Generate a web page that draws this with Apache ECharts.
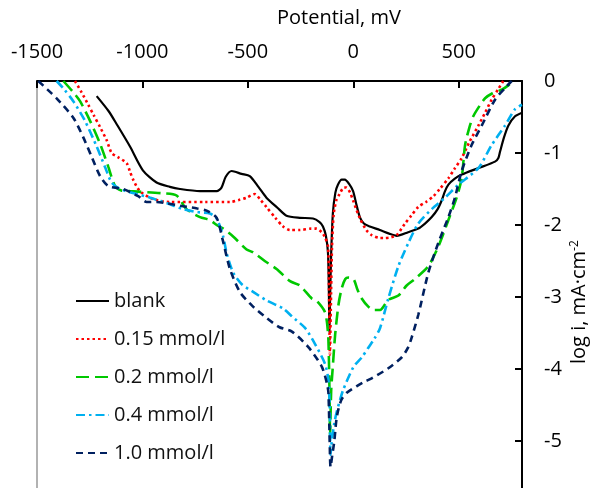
<!DOCTYPE html>
<html>
<head>
<meta charset="utf-8">
<script src="https://cdn.jsdelivr.net/npm/echarts@6/dist/echarts.min.js"></script>
<style>
  html, body { margin: 0; padding: 0; background: #fff; overflow: hidden; width: 592px; height: 488px; }
  #chart { width: 592px; height: 523px; }
</style>
</head>
<body>
<div id="chart"></div>
<script>
// series names
const seriesNames = ['blank', '0.15 mmol/l', '0.2 mmol/l', '0.4 mmol/l', '1.0 mmol/l'];

// [potential mV, log i]
const blank = [[-1217,-0.21],[-1160,-0.42],[-1122,-0.60],[-1059,-0.91],[-998,-1.24],[-933,-1.41],[-870,-1.47],[-822,-1.50],[-727,-1.53],[-648,-1.53],[-625,-1.48],[-605,-1.33],[-577,-1.25],[-530,-1.29],[-491,-1.32],[-450,-1.47],[-412,-1.62],[-360,-1.76],[-317,-1.87],[-254,-1.90],[-191,-1.91],[-160,-1.96],[-144,-2.02],[-130,-2.15],[-120,-2.39],[-116,-2.9],[-113,-3.5],[-110,-3.0],[-105,-2.4],[-97,-1.84],[-85,-1.55],[-73,-1.44],[-55,-1.37],[-40,-1.37],[-20,-1.43],[-1,-1.53],[15,-1.72],[31,-1.89],[50,-1.98],[78,-2.02],[126,-2.07],[170,-2.12],[206,-2.15],[260,-2.10],[308,-2.05],[340,-1.98],[372,-1.89],[400,-1.78],[419,-1.66],[435,-1.53],[451,-1.44],[480,-1.36],[514,-1.30],[593,-1.21],[672,-1.12],[688,-1.07],[696,-0.98],[715,-0.78],[735,-0.62],[767,-0.49],[800,-0.44]];

const c015 = [[-1320,0],[-1290,-0.15],[-1257,-0.33],[-1230,-0.48],[-1201,-0.64],[-1170,-0.82],[-1146,-1.0],[-1115,-1.06],[-1075,-1.14],[-1060,-1.25],[-1044,-1.37],[-1012,-1.53],[-949,-1.64],[-870,-1.68],[-700,-1.68],[-585,-1.68],[-540,-1.65],[-506,-1.62],[-467,-1.57],[-440,-1.65],[-412,-1.75],[-370,-1.90],[-333,-2.02],[-300,-2.07],[-254,-2.07],[-200,-2.05],[-175,-2.05],[-150,-2.10],[-136,-2.16],[-120,-2.30],[-115,-2.9],[-111,-3.8],[-107,-3.2],[-101,-2.3],[-93,-1.85],[-80,-1.65],[-65,-1.57],[-45,-1.48],[-33,-1.48],[-15,-1.55],[-1,-1.66],[30,-1.90],[62,-2.07],[87,-2.14],[126,-2.18],[150,-2.18],[180,-2.17],[206,-2.14],[245,-1.98],[275,-1.87],[308,-1.75],[345,-1.68],[380,-1.60],[410,-1.50],[451,-1.35],[480,-1.22],[514,-1.07],[550,-0.85],[593,-0.62],[625,-0.44],[656,-0.26],[690,-0.10],[711,0]];

const c02 = [[-1375,0],[-1330,-0.15],[-1296,-0.28],[-1249,-0.55],[-1201,-0.87],[-1162,-1.19],[-1130,-1.46],[-1100,-1.52],[-1059,-1.53],[-901,-1.56],[-838,-1.59],[-791,-1.78],[-727,-1.89],[-680,-1.93],[-648,-2.0],[-617,-2.05],[-570,-2.16],[-506,-2.34],[-475,-2.38],[-420,-2.50],[-364,-2.61],[-300,-2.78],[-254,-2.84],[-197,-3.02],[-175,-3.05],[-136,-3.20],[-125,-3.35],[-118,-3.6],[-113,-4.3],[-110,-4.92],[-105,-4.3],[-98,-4.0],[-86,-3.52],[-70,-3.1],[-55,-2.88],[-38,-2.75],[-23,-2.73],[1,-2.75],[20,-2.9],[40,-3.02],[70,-3.13],[95,-3.18],[127,-3.18],[166,-3.04],[214,-2.98],[253,-2.84],[292,-2.75],[356,-2.57],[403,-2.30],[451,-1.93],[490,-1.62],[514,-1.35],[530,-0.89],[550,-0.65],[569,-0.49],[600,-0.34],[625,-0.24],[660,-0.17],[704,-0.12],[740,-0.05],[759,0]];

const c04 = [[-1407,0],[-1370,-0.12],[-1328,-0.28],[-1273,-0.55],[-1217,-0.91],[-1178,-1.19],[-1146,-1.41],[-1107,-1.50],[-1040,-1.56],[-964,-1.62],[-880,-1.70],[-807,-1.78],[-740,-1.82],[-680,-1.84],[-648,-1.91],[-617,-2.16],[-600,-2.4],[-570,-2.66],[-530,-2.82],[-475,-2.93],[-410,-3.05],[-333,-3.16],[-291,-3.27],[-229,-3.43],[-182,-3.65],[-134,-3.93],[-118,-4.15],[-112,-4.5],[-108,-5.19],[-102,-5.0],[-90,-4.75],[-79,-4.6],[-62,-4.42],[-48,-4.29],[1,-3.97],[40,-3.84],[72,-3.70],[100,-3.58],[127,-3.43],[166,-3.02],[214,-2.57],[261,-2.25],[308,-1.98],[372,-1.78],[435,-1.62],[498,-1.44],[593,-1.21],[656,-0.89],[719,-0.62],[767,-0.39],[800,-0.33]];

const c10 = [[-1494,0],[-1450,-0.12],[-1407,-0.24],[-1328,-0.51],[-1281,-0.78],[-1241,-1.05],[-1201,-1.32],[-1162,-1.46],[-1091,-1.50],[-1020,-1.60],[-980,-1.68],[-933,-1.68],[-880,-1.70],[-807,-1.74],[-740,-1.77],[-696,-1.80],[-648,-1.90],[-620,-2.2],[-585,-2.61],[-538,-2.93],[-480,-3.12],[-412,-3.29],[-350,-3.42],[-291,-3.48],[-212,-3.70],[-149,-3.97],[-125,-4.2],[-118,-4.33],[-112,-5.0],[-108,-5.36],[-100,-5.2],[-90,-5.0],[-80,-4.7],[-70,-4.55],[-55,-4.42],[-31,-4.33],[15,-4.24],[50,-4.18],[87,-4.13],[166,-3.99],[229,-3.84],[260,-3.70],[277,-3.56],[308,-3.25],[356,-2.66],[403,-2.25],[451,-1.89],[482,-1.62],[514,-1.25],[561,-0.89],[609,-0.62],[672,-0.26],[719,-0.10],[751,0]];

const FONT = '"Open Sans", sans-serif';

const chart = echarts.init(document.getElementById('chart'));

function mk(name, data, color, width, type) {
  return {
    name: name,
    type: 'line',
    data: data,
    symbol: 'none',
    smooth: 0.25,
    lineStyle: { color: color, width: width, type: type },
    itemStyle: { color: color },
    z: 3
  };
}

const option = {
  animation: false,
  backgroundColor: '#fff',
  graphic: [{
    type: 'text',
    left: 277,
    top: 8,
    style: { text: 'Potential, mV', fontSize: 20, fontFamily: FONT, fill: '#000' }
  }, {
    type: 'text',
    x: 569,
    y: 364,
    rotation: Math.PI / 2,
    style: {
      text: 'log i, mA·cm{sup|-2}',
      fontSize: 20,
      fontFamily: FONT,
      fill: '#000',
      rich: { sup: { fontSize: 12, fontFamily: FONT, fill: '#000', padding: [0, 0, 9, 0] } }
    }
  }],
  legend: {
    orient: 'vertical',
    left: 70,
    top: 286,
    itemWidth: 33,
    itemHeight: 14,
    itemGap: 18,
    itemStyle: { opacity: 0 },
    textStyle: { fontFamily: FONT, fontSize: 20, color: '#111', lineHeight: 20 },
    data: seriesNames
  },
  grid: { left: 37, right: 70, top: 81, bottom: 0 },
  xAxis: {
    type: 'value',
    position: 'top',
    min: -1500,
    max: 800,
    interval: 500,
    axisLine: { show: true, lineStyle: { color: '#000', width: 2 } },
    axisTick: { show: true, inside: true, length: 7, lineStyle: { color: '#000', width: 2 } },
    axisLabel: {
      margin: 19, fontFamily: FONT, fontSize: 20, color: '#000',
      formatter: v => v > 700 ? '' : String(v)
    },
    splitLine: { show: false }
  },
  yAxis: [{
    type: 'value',
    position: 'right',
    min: -6,
    max: 0,
    interval: 1,
    axisLine: { show: true, onZero: false, lineStyle: { color: '#000', width: 2 } },
    axisTick: { show: true, inside: true, length: 7, lineStyle: { color: '#000', width: 2 } },
    axisLabel: { margin: 22, fontFamily: FONT, fontSize: 20, color: '#000' },
    splitLine: { show: false }
  }, {
    type: 'value',
    position: 'left',
    min: -6,
    max: 0,
    axisLine: { show: true, onZero: false, lineStyle: { color: '#999', width: 1.5 } },
    axisTick: { show: false },
    axisLabel: { show: false },
    splitLine: { show: false }
  }],
  series: [
    mk(seriesNames[0], blank, '#000000', 2.2, 'solid'),
    mk(seriesNames[1], c015, '#ff0000', 2.6, [2.5, 3]),
    mk(seriesNames[2], c02, '#00c800', 2.6, [13, 6]),
    mk(seriesNames[3], c04, '#00b0f0', 2.6, [9, 4, 2.5, 4]),
    mk(seriesNames[4], c10, '#002060', 2.6, [7, 5])
  ]
};

chart.setOption(option);
</script>
</body>
</html>
